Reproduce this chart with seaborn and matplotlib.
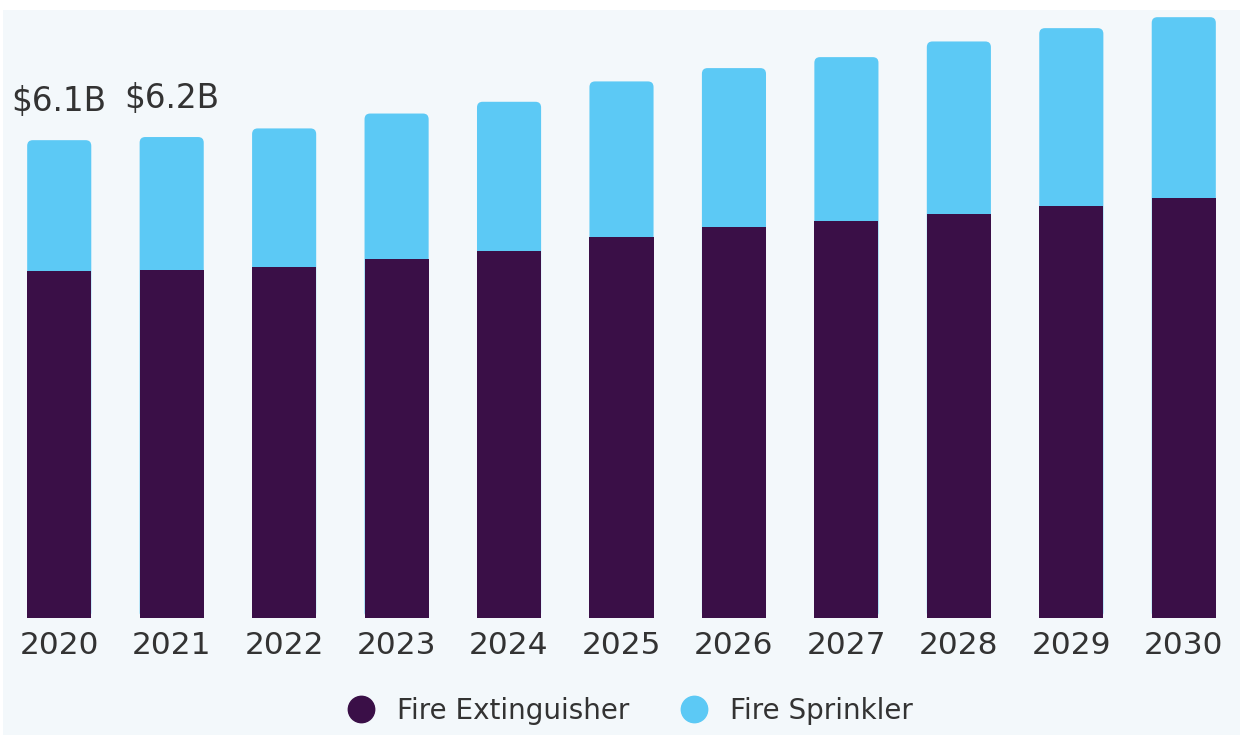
import matplotlib
matplotlib.use('Agg')
import matplotlib.pyplot as plt
import pandas as pd
import seaborn as sns
from matplotlib.patches import FancyBboxPatch, Rectangle
from matplotlib.lines import Line2D

years = ['2020', '2021', '2022', '2023', '2024', '2025', '2026', '2027', '2028', '2029', '2030']
extinguisher = [4.43, 4.44, 4.48, 4.58, 4.68, 4.86, 4.99, 5.07, 5.16, 5.26, 5.36]
sprinkler = [1.67, 1.70, 1.77, 1.86, 1.91, 1.99, 2.03, 2.09, 2.20, 2.27, 2.31]
value_labels = ['$6.1B', '$6.2B']

dark = '#3A0F47'
blue = '#5CC9F5'
bg = '#F3F8FB'

df = pd.DataFrame({'year': years, 'ext': extinguisher, 'spr': sprinkler})
df['total'] = df['ext'] + df['spr']

sns.set_theme(style='white')
plt.rcParams['font.family'] = ['DejaVu Sans']

fig = plt.figure(figsize=(12.46, 7.35), dpi=100)
fig.patch.set_facecolor('white')
fig.patches.append(Rectangle((3 / 1246, 0), 1237 / 1246, 725 / 735, transform=fig.transFigure,
                             facecolor=bg, edgecolor='none', zorder=-5))

ax = fig.add_axes([3 / 1246, 117 / 735, 1237 / 1246, 611 / 735])
ax.set_facecolor('none')

# sprinkler drawn as full stack height behind, extinguisher on top
sns.barplot(data=df, x='year', y='total', color=blue, width=0.57, saturation=1,
            linewidth=0, edgecolor='none', ax=ax)
sns.barplot(data=df, x='year', y='ext', color=dark, width=0.57, saturation=1,
            linewidth=0, edgecolor='none', ax=ax)

# round the top corners of the light bars
for p in list(ax.containers[0]):
    x0, y0 = p.get_x(), p.get_y()
    w, h = p.get_width(), p.get_height()
    p.remove()
    ax.add_patch(FancyBboxPatch((x0, y0), w, h, boxstyle='round,pad=0,rounding_size=0.05',
                                mutation_aspect=1.45, facecolor=blue, edgecolor='none',
                                linewidth=0, zorder=1))
for p in ax.containers[1]:
    p.set_zorder(2)

for i, lab in enumerate(value_labels):
    ax.annotate(lab, (i, df['total'][i]), xytext=(0, 16), textcoords='offset points',
                ha='center', va='bottom', fontsize=23.5, color='#333333')

ax.set_xlim(-0.5, 10.5)
ax.set_ylim(0, 7.8)
ax.set_xlabel('')
ax.set_ylabel('')
ax.set_yticks([])
ax.tick_params(axis='x', length=0, pad=9, labelsize=22.5, labelcolor='#333333')
sns.despine(ax=ax, left=True, bottom=True)

handles = [Line2D([], [], marker='o', linestyle='none', markersize=19, color=dark),
           Line2D([], [], marker='o', linestyle='none', markersize=19, color=blue)]
fig.legend(handles, ['Fire Extinguisher', 'Fire Sprinkler'], loc='center',
           bbox_to_anchor=(0.5, 1 - 711 / 735), ncol=2, frameon=False,
           fontsize=20, handletextpad=0.3, columnspacing=1.3, labelcolor='#333333')

plt.savefig('out.png', dpi=100)
